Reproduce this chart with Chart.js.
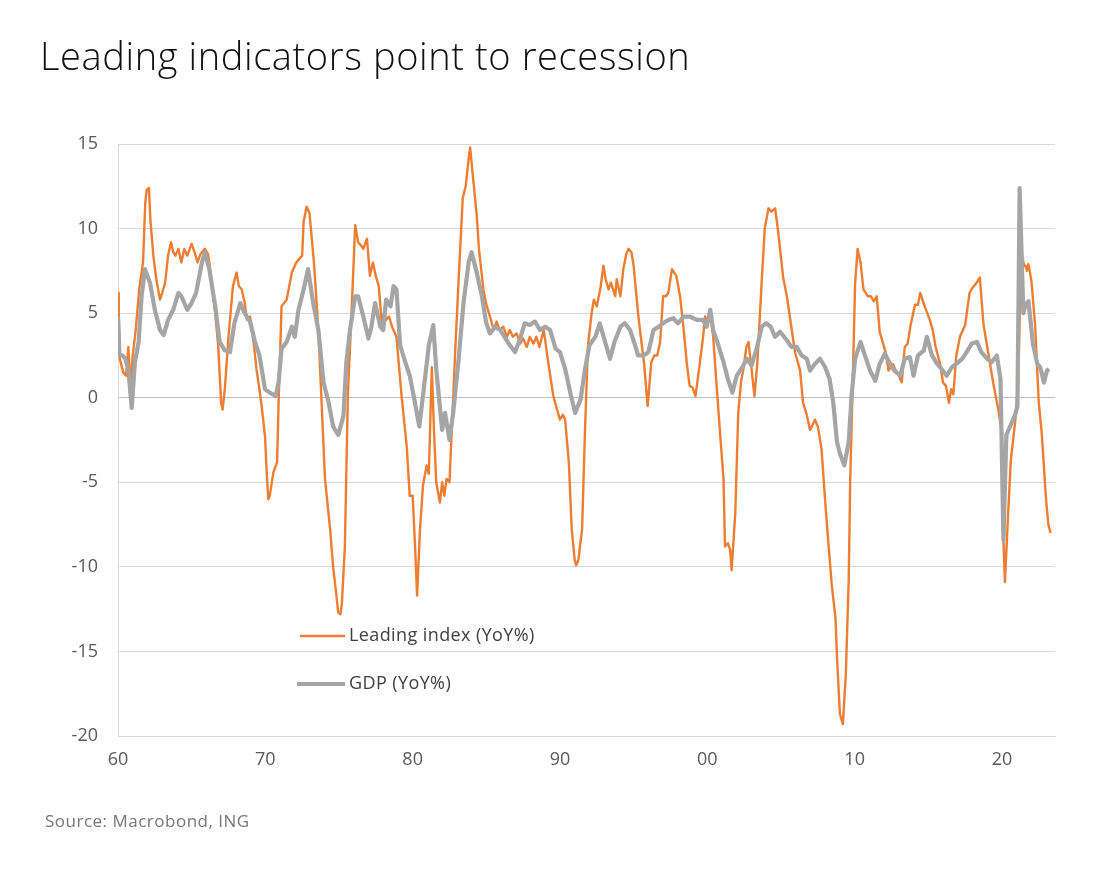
<!DOCTYPE html>
<html>
<head>
<meta charset="utf-8">
<script src="https://cdn.jsdelivr.net/npm/chart.js@4.4.0/dist/chart.umd.min.js"></script>
<style>
html,body{margin:0;padding:0;background:#fff;width:1110px;height:873px;overflow:hidden;}
#wrap{position:absolute;left:0;top:0;width:1110px;height:873px;}
#title{position:absolute;left:40px;top:36px;margin:0;font-family:'Open Sans',sans-serif;font-weight:300;font-size:38px;letter-spacing:0.6px;line-height:1;color:#111;white-space:nowrap;}
#source{position:absolute;left:45px;top:812px;font-family:'Open Sans',sans-serif;font-size:17px;letter-spacing:0.5px;line-height:1;color:#777;white-space:nowrap;}
</style>
</head>
<body>
<div id="wrap"><canvas id="c"></canvas></div>
<h1 id="title">Leading indicators point to recession</h1>
<div id="source">Source: Macrobond, ING</div>
<script>
// ---- data (year, YoY %) ----
const seriesNames = ["Leading index (YoY%)", "GDP (YoY%)"];
const xTickYears = [1960, 1970, 1980, 1990, 2000, 2010, 2020];
const yTickValues = [-20, -15, -10, -5, 0, 5, 10, 15];

const leadingIndex = [
[1960.00,6.2],[1960.05,5.0],[1960.12,2.3],[1960.35,1.5],[1960.55,1.3],[1960.7,3.0],[1960.8,1.5],[1960.9,1.1],
[1961.0,2.5],[1961.2,4.0],[1961.45,6.5],[1961.7,8.0],[1961.85,11.5],[1961.95,12.3],[1962.1,12.4],[1962.2,10.5],
[1962.4,8.4],[1962.6,7.0],[1962.85,5.8],[1963.0,6.2],[1963.2,6.8],[1963.4,8.4],[1963.6,9.2],[1963.75,8.6],
[1963.9,8.4],[1964.1,8.8],[1964.3,8.0],[1964.5,8.8],[1964.7,8.4],[1965.0,9.1],[1965.2,8.6],[1965.4,8.0],
[1965.6,8.5],[1965.9,8.8],[1966.1,8.5],[1966.2,8.0],[1966.4,6.5],[1966.6,5.0],[1966.8,3.1],[1967.0,-0.3],
[1967.1,-0.7],[1967.25,0.5],[1967.5,3.6],[1967.8,6.6],[1968.05,7.4],[1968.2,6.6],[1968.4,6.4],[1968.6,5.6],
[1968.75,4.6],[1968.96,4.8],[1969.2,3.3],[1969.4,1.7],[1969.6,0.5],[1969.75,-0.5],[1969.98,-2.3],[1970.1,-4.5],
[1970.2,-6.0],[1970.3,-5.8],[1970.55,-4.4],[1970.8,-3.8],[1970.9,-0.3],[1971.1,5.4],[1971.45,5.8],[1971.8,7.4],
[1972.1,8.0],[1972.5,8.4],[1972.6,10.4],[1972.8,11.3],[1973.0,10.9],[1973.3,8.0],[1973.6,4.0],[1973.8,0.1],
[1974.05,-4.8],[1974.4,-7.8],[1974.6,-10.0],[1974.8,-11.5],[1974.95,-12.7],[1975.1,-12.8],[1975.2,-12.1],[1975.4,-8.8],
[1975.6,0.1],[1975.85,5.0],[1976.1,10.2],[1976.3,9.2],[1976.5,9.0],[1976.65,8.8],[1976.9,9.4],[1977.1,7.2],
[1977.3,8.0],[1977.5,7.2],[1977.7,6.6],[1977.9,4.4],[1978.05,5.0],[1978.2,4.6],[1978.4,4.8],[1978.6,4.2],
[1978.9,3.6],[1979.25,0.1],[1979.6,-2.9],[1979.8,-5.8],[1980.0,-5.8],[1980.15,-8.5],[1980.3,-11.7],[1980.5,-7.8],
[1980.7,-5.2],[1980.95,-4.0],[1981.1,-4.5],[1981.3,1.8],[1981.45,-2.0],[1981.6,-5.0],[1981.85,-6.2],[1982.0,-5.0],
[1982.15,-5.8],[1982.3,-4.8],[1982.5,-5.0],[1982.7,-1.0],[1982.9,3.0],[1983.15,7.5],[1983.4,11.8],[1983.6,12.5],
[1983.8,14.1],[1983.9,14.8],[1984.1,13.0],[1984.35,10.8],[1984.5,8.8],[1984.8,6.4],[1985.0,5.5],[1985.25,4.8],
[1985.5,4.0],[1985.7,4.5],[1985.9,4.0],[1986.15,4.2],[1986.4,3.6],[1986.6,4.0],[1986.8,3.6],[1987.05,3.8],
[1987.3,3.2],[1987.5,3.5],[1987.75,3.0],[1987.95,3.6],[1988.2,3.2],[1988.4,3.6],[1988.6,3.0],[1988.9,4.0],
[1989.2,2.1],[1989.55,0.1],[1989.8,-0.7],[1990.0,-1.3],[1990.2,-1.0],[1990.35,-1.3],[1990.6,-3.8],[1990.8,-7.8],
[1991.0,-9.6],[1991.1,-9.9],[1991.25,-9.6],[1991.4,-8.5],[1991.5,-7.8],[1991.7,-1.9],[1991.9,3.1],[1992.15,5.0],
[1992.3,5.8],[1992.5,5.4],[1992.75,6.5],[1992.95,7.8],[1993.1,7.0],[1993.3,6.4],[1993.45,6.8],[1993.6,6.4],
[1993.75,6.0],[1993.85,7.0],[1994.1,6.0],[1994.3,7.6],[1994.5,8.5],[1994.65,8.8],[1994.85,8.6],[1995.0,7.8],
[1995.3,5.0],[1995.5,3.5],[1995.7,2.1],[1995.95,-0.5],[1996.2,2.1],[1996.4,2.5],[1996.6,2.5],[1996.8,3.3],
[1997.0,6.0],[1997.2,6.0],[1997.35,6.2],[1997.6,7.6],[1997.75,7.4],[1997.9,7.2],[1998.15,6.0],[1998.4,4.0],
[1998.6,2.1],[1998.8,0.7],[1999.0,0.6],[1999.2,0.1],[1999.5,2.1],[1999.7,3.5],[1999.85,4.8],[1999.95,4.5],
[2000.2,5.0],[2000.4,3.6],[2000.6,1.1],[2000.85,-1.9],[2001.1,-4.8],[2001.2,-8.8],[2001.4,-8.6],[2001.55,-9.0],
[2001.65,-10.2],[2001.9,-6.8],[2002.1,-0.9],[2002.3,1.0],[2002.45,1.7],[2002.65,3.0],[2002.8,3.3],[2003.0,1.7],
[2003.2,0.1],[2003.4,2.1],[2003.7,7.0],[2003.9,10.0],[2004.15,11.2],[2004.35,11.0],[2004.6,11.2],[2004.8,9.9],
[2005.15,7.1],[2005.4,6.0],[2005.6,4.8],[2005.95,2.7],[2006.3,1.6],[2006.5,-0.3],[2006.75,-1.0],[2006.97,-1.9],
[2007.15,-1.6],[2007.3,-1.3],[2007.5,-1.7],[2007.75,-3.0],[2008.0,-6.1],[2008.2,-8.4],[2008.45,-11.1],[2008.7,-13.0],
[2008.8,-15.3],[2009.0,-18.7],[2009.2,-19.3],[2009.4,-16.4],[2009.6,-10.7],[2009.7,-4.9],[2009.87,0.9],[2010.03,6.7],
[2010.2,8.8],[2010.4,8.0],[2010.6,6.4],[2010.9,6.0],[2011.1,6.0],[2011.3,5.7],[2011.5,6.0],[2011.7,3.9],
[2012.1,2.7],[2012.3,1.6],[2012.6,2.0],[2012.8,1.6],[2013.0,1.3],[2013.2,0.9],[2013.4,3.0],[2013.6,3.2],
[2013.8,4.3],[2014.1,5.5],[2014.3,5.5],[2014.45,6.2],[2014.6,5.8],[2014.8,5.3],[2015.1,4.6],[2015.3,4.0],
[2015.5,3.0],[2015.8,2.0],[2016.0,0.9],[2016.2,0.7],[2016.4,-0.3],[2016.55,0.5],[2016.7,0.2],[2016.9,2.5],
[2017.15,3.6],[2017.35,4.0],[2017.5,4.3],[2017.8,6.2],[2018.0,6.5],[2018.2,6.7],[2018.35,6.9],[2018.5,7.1],
[2018.75,4.3],[2019.1,2.5],[2019.4,0.9],[2019.75,-0.7],[2020.0,-2.1],[2020.1,-8.4],[2020.2,-10.9],[2020.4,-7.2],
[2020.6,-3.7],[2020.9,-1.4],[2021.1,0.9],[2021.2,4.5],[2021.35,8.5],[2021.5,7.8],[2021.6,7.8],[2021.7,7.5],
[2021.8,7.9],[2022.0,6.9],[2022.25,4.3],[2022.5,-0.3],[2022.7,-2.1],[2023.0,-6.1],[2023.15,-7.5],[2023.3,-8.0]
];

const gdpGrowth = [
[1960.0,4.8],[1960.1,2.5],[1960.3,2.5],[1960.5,2.3],[1960.7,1.7],[1960.93,-0.6],[1961.15,2.1],[1961.4,3.3],
[1961.6,6.0],[1961.83,7.6],[1962.17,6.8],[1962.5,5.2],[1962.85,4.0],[1963.1,3.7],[1963.4,4.6],[1963.75,5.2],
[1964.1,6.2],[1964.3,6.0],[1964.7,5.2],[1965.0,5.6],[1965.3,6.2],[1965.7,8.0],[1965.9,8.6],[1966.2,7.6],
[1966.6,5.4],[1966.9,3.3],[1967.25,2.8],[1967.6,2.7],[1967.9,4.4],[1968.3,5.6],[1968.6,5.0],[1968.96,4.5],
[1969.3,3.3],[1969.6,2.5],[1969.98,0.5],[1970.3,0.3],[1970.7,0.1],[1970.9,0.9],[1971.1,2.9],[1971.45,3.3],
[1971.8,4.2],[1972.0,3.6],[1972.25,5.2],[1972.6,6.4],[1972.9,7.6],[1973.25,5.6],[1973.6,4.0],[1973.95,0.9],
[1974.3,-0.3],[1974.6,-1.7],[1974.95,-2.2],[1975.3,-1.1],[1975.5,2.1],[1975.75,4.0],[1976.1,6.0],[1976.3,6.0],
[1976.65,4.8],[1977.0,3.5],[1977.2,4.2],[1977.45,5.6],[1977.8,4.2],[1978.0,4.0],[1978.2,5.8],[1978.5,5.4],
[1978.7,6.6],[1978.9,6.4],[1979.15,3.1],[1979.5,2.1],[1979.8,1.3],[1980.2,-0.5],[1980.45,-1.7],[1980.7,0.1],
[1981.1,3.1],[1981.4,4.3],[1981.6,1.7],[1982.0,-1.9],[1982.2,-0.9],[1982.5,-2.5],[1982.75,-0.9],[1983.1,2.1],
[1983.45,5.6],[1983.8,8.0],[1984.0,8.6],[1984.35,7.4],[1984.7,6.0],[1985.0,4.4],[1985.25,3.8],[1985.6,4.2],
[1985.95,4.0],[1986.3,3.5],[1986.6,3.1],[1986.95,2.7],[1987.3,3.5],[1987.6,4.4],[1987.95,4.3],[1988.3,4.5],
[1988.65,4.0],[1989.0,4.2],[1989.33,4.0],[1989.7,2.9],[1990.0,2.7],[1990.35,1.7],[1990.7,0.3],[1991.03,-0.9],
[1991.4,-0.1],[1991.7,1.7],[1992.0,3.1],[1992.4,3.6],[1992.7,4.4],[1993.06,3.3],[1993.4,2.3],[1993.7,3.3],
[1994.1,4.2],[1994.4,4.4],[1994.76,4.0],[1995.1,3.1],[1995.3,2.5],[1995.7,2.5],[1996.0,2.7],[1996.35,4.0],
[1996.7,4.2],[1997.0,4.4],[1997.35,4.6],[1997.7,4.7],[1998.0,4.4],[1998.4,4.8],[1998.8,4.8],[1999.3,4.6],
[1999.7,4.6],[1999.96,4.2],[2000.2,5.2],[2000.4,4.0],[2000.75,3.1],[2001.1,2.1],[2001.4,1.1],[2001.7,0.3],
[2002.0,1.3],[2002.3,1.7],[2002.7,2.3],[2003.0,1.9],[2003.35,2.9],[2003.7,4.2],[2004.0,4.4],[2004.3,4.2],
[2004.6,3.6],[2004.94,3.9],[2005.4,3.4],[2005.7,3.0],[2006.07,3.0],[2006.4,2.5],[2006.75,2.3],[2006.97,1.6],
[2007.3,2.0],[2007.65,2.3],[2008.0,1.8],[2008.3,1.1],[2008.55,-0.3],[2008.8,-2.6],[2009.0,-3.3],[2009.3,-4.0],
[2009.6,-2.6],[2009.8,0.2],[2010.03,2.3],[2010.4,3.3],[2010.7,2.5],[2011.05,1.6],[2011.4,1.0],[2011.7,2.0],
[2012.05,2.6],[2012.4,2.0],[2012.7,1.6],[2013.1,1.3],[2013.4,2.3],[2013.75,2.4],[2014.0,1.3],[2014.3,2.5],
[2014.7,2.8],[2014.9,3.6],[2015.25,2.5],[2015.6,2.0],[2015.9,1.7],[2016.25,1.3],[2016.6,1.8],[2016.9,2.0],
[2017.3,2.3],[2017.6,2.7],[2017.95,3.2],[2018.3,3.3],[2018.6,2.7],[2019.0,2.3],[2019.3,2.1],[2019.65,2.5],
[2019.9,1.1],[2020.1,-8.4],[2020.3,-2.2],[2020.6,-1.6],[2020.9,-1.0],[2021.05,-0.5],[2021.2,12.4],[2021.45,5.0],
[2021.6,5.5],[2021.8,5.7],[2022.1,3.2],[2022.4,2.0],[2022.6,1.8],[2022.85,0.9],[2023.05,1.6],[2023.2,1.7]
];

const toPoints = arr => arr.map(p => ({x: p[0], y: p[1]}));

const insideLegend = {
  id: 'insideLegend',
  afterDatasetsDraw(chart) {
    const {ctx, chartArea: a} = chart;
    const rows = [
      {ds: chart.data.datasets[0], x0: a.left + 182, x1: a.left + 227, y: a.top + 492},
      {ds: chart.data.datasets[1], x0: a.left + 179, x1: a.left + 227, y: a.top + 540}
    ];
    ctx.save();
    ctx.font = '18px "Open Sans", sans-serif';
    if ('letterSpacing' in ctx) ctx.letterSpacing = '0.4px';
    ctx.textBaseline = 'middle';
    ctx.textAlign = 'left';
    rows.forEach(r => {
      ctx.strokeStyle = r.ds.borderColor;
      ctx.lineWidth = r.ds.borderWidth;
      ctx.lineCap = 'butt';
      ctx.beginPath();
      ctx.moveTo(r.x0, r.y);
      ctx.lineTo(r.x1, r.y);
      ctx.stroke();
      ctx.fillStyle = '#404040';
      ctx.fillText(r.ds.label, r.x1 + 4, r.y);
    });
    ctx.restore();
  }
};

new Chart(document.getElementById('c'), {
  type: 'line',
  data: {
    datasets: [
      {label: seriesNames[0], data: toPoints(leadingIndex), borderColor: '#ED7D31', borderWidth: 2.4, pointRadius: 0, tension: 0, order: 1, borderJoinStyle: 'round'},
      {label: seriesNames[1], data: toPoints(gdpGrowth), borderColor: '#A5A5A5', borderWidth: 4.2, pointRadius: 0, tension: 0, order: 0, borderJoinStyle: 'round'}
    ]
  },
  options: {
    responsive: true,
    maintainAspectRatio: false,
    animation: false,
    layout: {padding: {left: 0, right: 55, top: 144, bottom: 97}},
    plugins: {legend: {display: false}, tooltip: {enabled: false}},
    scales: {
      x: {
        type: 'linear', min: 1960, max: 2023.6,
        afterBuildTicks(s) { s.ticks = xTickYears.map(v => ({value: v})); },
        afterFit(s) { s.height = 40; },
        ticks: {
          autoSkip: false, maxRotation: 0, padding: 13, color: '#595959',
          font: {family: 'Open Sans', size: 18},
          callback: v => String(v % 100).padStart(2, '0')
        },
        grid: {display: false, drawTicks: false},
        border: {display: true, color: '#D9D9D9', width: 1}
      },
      y: {
        min: -20, max: 15,
        afterBuildTicks(s) { s.ticks = yTickValues.map(v => ({value: v})); },
        afterFit(s) { s.width = 118; },
        ticks: {padding: 20, color: '#595959', font: {family: 'Open Sans', size: 18}},
        grid: {drawTicks: false, color: c => (c.tick && c.tick.value === 0) ? '#BFBFBF' : '#D9D9D9', lineWidth: 1},
        border: {display: true, color: '#D9D9D9', width: 1}
      }
    }
  },
  plugins: [insideLegend]
});
</script>
</body>
</html>
